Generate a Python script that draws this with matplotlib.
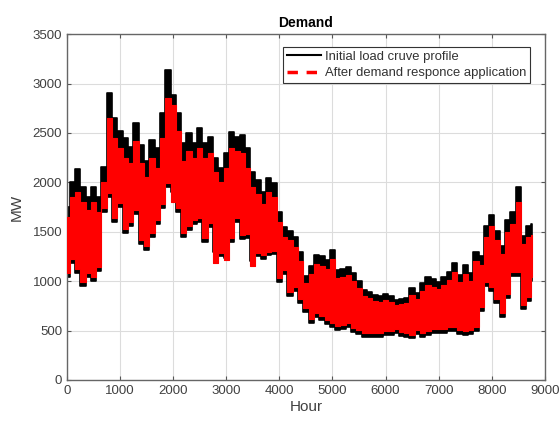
import matplotlib
matplotlib.use("Agg")
import matplotlib.pyplot as plt
from matplotlib.lines import Line2D
import numpy as np

plt.rcParams['font.family'] = ['Liberation Sans', 'DejaVu Sans']

hours = list(range(0, 8800, 100))[:88] + [8760]

initial_upper = [1750, 2000, 2140, 1950, 1850, 1950, 1850, 2160, 2900, 2650,
                 2520, 2450, 2360, 2600, 2380, 2220, 2430, 2350, 2700, 3135,
                 2880, 2700, 2400, 2500, 2400, 2550, 2400, 2460, 2250, 2150,
                 2300, 2510, 2460, 2480, 2350, 2100, 2020, 1900, 2040, 1990,
                 1700, 1550, 1510, 1450, 1300, 1050, 1150, 1265, 1250, 1215,
                 1320, 1110, 1120, 1145, 1080, 1000, 910, 890, 860, 845,
                 870, 850, 810, 820, 830, 930, 880, 980, 1045, 1020,
                 990, 1040, 1090, 1180, 1060, 1160, 1080, 1300, 1250, 1560,
                 1670, 1510, 1360, 1620, 1700, 1950, 1460, 1560, 1580]
initial_lower = [1045, 1180, 1080, 950, 1045, 1000, 1100, 1700, 1850, 1600,
                 1750, 1490, 1560, 1680, 1380, 1320, 1450, 1580, 1740, 1950,
                 1900, 1700, 1450, 1520, 1580, 1600, 1400, 1550, 1300, 1250,
                 1230, 1400, 1600, 1430, 1440, 1200, 1250, 1220, 1260, 1270,
                 990, 1070, 850, 900, 780, 690, 580, 640, 610, 570,
                 540, 510, 520, 540, 490, 470, 440, 440, 440, 440,
                 455, 460, 475, 450, 440, 420, 470, 440, 460, 480,
                 480, 475, 500, 500, 470, 455, 470, 500, 700, 950,
                 900, 780, 640, 830, 1050, 1050, 720, 800, 1000]
dr_upper = [1650, 1850, 1900, 1800, 1720, 1800, 1700, 2000, 2650, 2450,
            2350, 2250, 2200, 2420, 2200, 2050, 2250, 2150, 2450, 2850,
            2780, 2520, 2220, 2320, 2250, 2350, 2250, 2300, 2100, 2000,
            2150, 2350, 2320, 2300, 2150, 1950, 1880, 1780, 1900, 1850,
            1600, 1450, 1420, 1350, 1200, 980, 1070, 1170, 1150, 1120,
            1220, 1030, 1040, 1060, 1000, 930, 850, 830, 800, 790,
            810, 790, 760, 770, 780, 860, 820, 900, 960, 940,
            920, 960, 1010, 1090, 990, 1070, 1000, 1200, 1160, 1450,
            1560, 1420, 1270, 1500, 1580, 1800, 1380, 1450, 1470]
dr_lower = [1080, 1220, 1120, 990, 1080, 1040, 1140, 1740, 1890, 1640,
            1790, 1530, 1600, 1720, 1420, 1360, 1490, 1620, 1780, 1990,
            1800, 1740, 1490, 1560, 1620, 1640, 1440, 1590, 1180, 1290,
            1210, 1440, 1640, 1470, 1480, 1150, 1290, 1260, 1300, 1310,
            1030, 1110, 890, 940, 820, 730, 620, 680, 650, 610,
            580, 550, 560, 580, 530, 510, 480, 480, 480, 480,
            495, 500, 515, 490, 480, 460, 510, 480, 500, 520,
            520, 515, 540, 540, 510, 495, 510, 540, 740, 990,
            940, 820, 680, 870, 1090, 1090, 760, 840, 1040]

x_ticks = list(range(0, 9001, 1000))
y_ticks = list(range(0, 3501, 500))

fig = plt.figure(figsize=(5.6, 4.21), dpi=100)
ax = fig.add_axes([0.1196, 0.0974, 0.8534, 0.8216])

ax.fill_between(hours, initial_lower, initial_upper, step='mid',
                color='black', linewidth=1.2, edgecolor='black', zorder=2)
ax.fill_between(hours, dr_lower, dr_upper, step='mid',
                color='red', linewidth=0.8, edgecolor='red', zorder=3)

ax.set_xlim(0, 9000)
ax.set_ylim(0, 3500)
ax.set_xticks(x_ticks)
ax.set_yticks(y_ticks)
ax.grid(True, color='#dcdcdc', linewidth=0.8, zorder=0)
ax.set_axisbelow(True)
ax.tick_params(direction='in', top=True, right=True, labelsize=9.5,
               colors='#555555', labelcolor='#404040', length=3)
for s in ax.spines.values():
    s.set_color('#666666')
    s.set_linewidth(1.0)

ax.set_title('Demand', fontsize=10, fontweight='bold', pad=5)
ax.set_xlabel('Hour', fontsize=11, color='#404040', labelpad=2)
ax.set_ylabel('MW', fontsize=11, color='#404040', labelpad=6)

handles = [Line2D([0], [0], color='black', lw=1.5),
           Line2D([0], [0], color='red', lw=2.5, ls=(0, (3, 2.5)))]
leg = ax.legend(handles, ['Initial load cruve profile',
                          'After demand responce application'],
                loc='upper right', bbox_to_anchor=(0.978, 0.975),
                fontsize=9.4, fancybox=False, framealpha=1,
                edgecolor='#333333', borderpad=0.3, labelspacing=0.35,
                handlelength=2.6, handletextpad=0.3, borderaxespad=0.3)
leg.get_frame().set_linewidth(0.8)
for t in leg.get_texts():
    t.set_color('#333333')

fig.savefig('out.png', dpi=100)
